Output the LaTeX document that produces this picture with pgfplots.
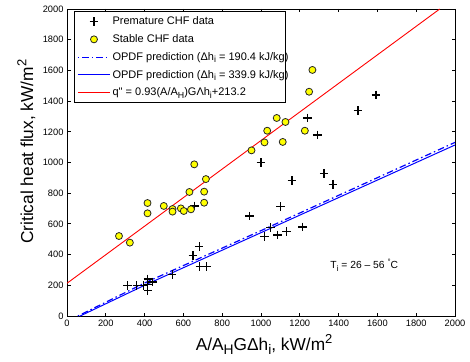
\documentclass[border=0pt]{standalone}
\usepackage{fontspec}
\setmainfont{Liberation Sans}
\usepackage{pgfplots}
\pgfplotsset{compat=1.18}
\newcommand{\sub}[1]{\raisebox{-0.45ex}{\scalebox{0.8}{#1}}}
\newcommand{\sups}[1]{\raisebox{0.75ex}{\scalebox{0.75}{#1}}}
\newcommand{\legtxt}[1]{\makebox[168bp][l]{#1}}
\definecolor{mblue}{RGB}{0,0,255}
\definecolor{mred}{RGB}{255,0,0}
\definecolor{myellow}{RGB}{255,255,0}
\tikzset{
  crossmk/.style={only marks, mark=+, mark size=4.3bp, mark options={line width=1.2bp, draw=black, color=black}},
  circmk/.style={only marks, mark=*, mark size=3.5bp, mark options={fill=myellow, draw=black!85, line width=0.8bp}},
  dashdotline/.style={color=mblue, draw=mblue, line width=1.2bp, dash pattern=on 1.5bp off 3bp on 6.5bp off 3bp},
  solidblue/.style={color=mblue, draw=mblue, line width=1bp, solid},
  redline/.style={color=mred, draw=mred, line width=0.9bp, solid},
}
\begin{document}
\begin{tikzpicture}
\useasboundingbox (-67bp,-46bp) rectangle (403bp,316bp);
\begin{axis}[
  at={(0,0)}, anchor=south west,
  scale only axis, width=388bp, height=307bp,
  xmin=0, xmax=2000, ymin=0, ymax=2000,
  xtick={0,200,...,2000}, ytick={0,200,...,2000},
  tick align=inside, xtick pos=both, ytick pos=both,
  major tick length=3.5bp,
  axis line style={line width=0.8bp, black},
  every tick/.style={line width=0.8bp, black},
  scaled ticks=false,
  /pgf/number format/1000 sep={},
  /pgf/number format/assume math mode=true,
  tick label style={font=\fontsize{9.3bp}{10bp}\selectfont},
  xlabel={A/A\sub{H}GΔh\sub{i}, kW/m\sups{2}},
  ylabel={Critical heat flux, kW/m\sups{2}},
  label style={font=\fontsize{17.3bp}{19bp}\selectfont},
  xlabel style={at={(axis description cs:0.508,-0.111)}, anchor=base},
  ylabel style={at={(axis description cs:-0.105,0.535)}, anchor=center},
  legend style={at={(axis description cs:0.018,0.992)}, anchor=north west,
    font=\fontsize{11bp}{13bp}\selectfont, line width=0.8bp,
    row sep=4.3bp, inner xsep=3bp, inner ysep=3bp,
    nodes={inner sep=2bp}},
  legend cell align=left,
]
% Premature CHF data
\addplot[crossmk, legend image code/.code={\draw[crossmk] plot coordinates {(16bp,0bp)};}] coordinates {
(1593,1440) (1500,1340) (1241,1290) (1290,1179) (1000,999) (1160,884)
(1325,930) (1371,858) (656,717) (942,651) (1102,714) (1049,575)
(1018,517) (1085,528) (1131,552) (1215,580) (681,454) (649,393)
(685,321) (719,321) (542,270) (312,198) (360,198) (394,198)
(417,241) (417,205) (417,165) (441,222)
};
\addlegendentry{\legtxt{Premature CHF data}}
% Stable CHF data
\addplot[circmk, legend image code/.code={\draw[circmk] plot coordinates {(16bp,0bp)};}] coordinates {
(268,521) (324,478) (415,736) (415,669) (499,717) (544,697) (544,680)
(587,701) (602,684) (639,695) (631,808) (656,988) (707,810) (707,738)
(716,892) (951,1079) (1018,1131) (1032,1207) (1081,1290) (1126,1264)
(1112,1134) (1226,1207) (1248,1461) (1265,1603)
};
\addlegendentry{\legtxt{Stable CHF data}}
% OPDF dh=190.4
\addplot[dashdotline, legend image code/.code={\draw[dashdotline] (0bp,0bp) -- (32bp,0bp);}] coordinates {
(56,0) (400,215) (1000,556) (2000,1131)
};
\addlegendentry{\legtxt{OPDF prediction (Δh\sub{i} = 190.4 kJ/kg)}}
% OPDF dh=339.9
\addplot[solidblue, legend image code/.code={\draw[solidblue] (0bp,0bp) -- (32bp,0bp);}] coordinates {
(68,0) (403,202) (995,540) (2000,1114)
};
\addlegendentry{\legtxt{OPDF prediction (Δh\sub{i} = 339.9 kJ/kg)}}
% fit
\addplot[redline, legend image code/.code={\draw[redline] (0bp,0bp) -- (32bp,0bp);}] coordinates {
(0,213.2) (1921.3,2000)
};
\addlegendentry{\legtxt{q\textquotedbl{} = 0.93(A/A\sub{H})GΛh\sub{i}+213.2}}
\node[anchor=west, font=\fontsize{10.3bp}{11bp}\selectfont, inner sep=0pt] at (axis cs:1357,332) {T\sub{i} = 26 – 56 \sups{°}C};
\end{axis}
\end{tikzpicture}
\end{document}
